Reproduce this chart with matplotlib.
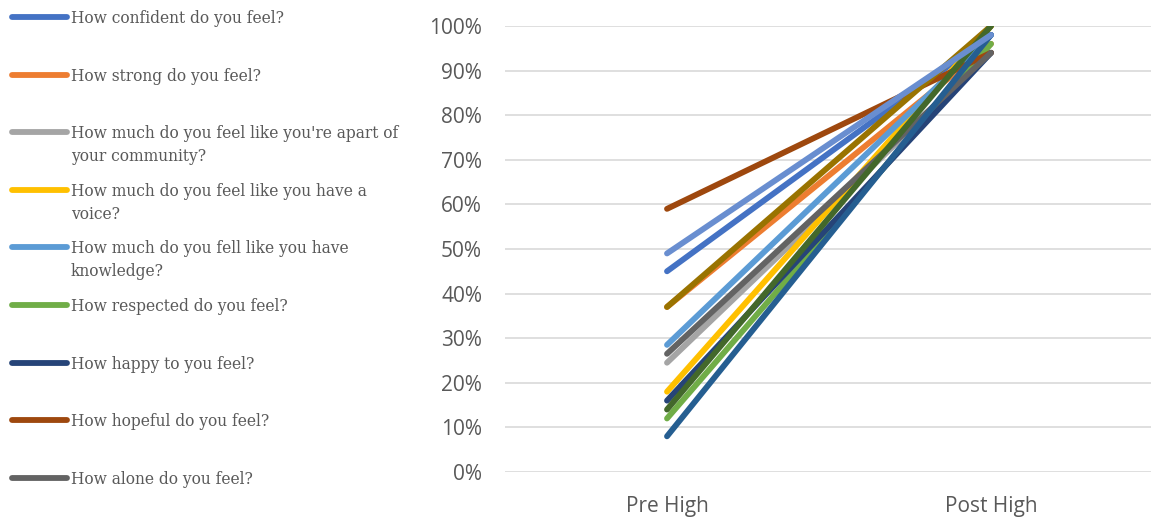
import matplotlib
matplotlib.use("Agg")
import matplotlib.pyplot as plt
from matplotlib.lines import Line2D
from matplotlib.ticker import PercentFormatter

# Survey responses: share of "high" answers before and after the program
stages = ["Pre High", "Post High"]

questions = [
    "How confident do you feel?",
    "How strong do you feel?",
    "How much do you feel like you're apart of\nyour community?",
    "How much do you feel like you have a\nvoice?",
    "How much do you fell like you have\nknowledge?",
    "How respected do you feel?",
    "How happy to you feel?",
    "How hopeful do you feel?",
    "How alone do you feel?",
    "Series 10",
    "Series 11",
    "Series 12",
    "Series 13",
]

pre_high = [0.45, 0.37, 0.245, 0.18, 0.285, 0.12, 0.16, 0.59, 0.265, 0.37, 0.08, 0.14, 0.49]
post_high = [0.98, 0.96, 0.94, 1.00, 0.98, 0.96, 0.94, 0.94, 0.94, 1.00, 0.98, 1.00, 0.98]

colors = ["#4472C4", "#ED7D31", "#A5A5A5", "#FFC000", "#5B9BD5", "#70AD47",
          "#264478", "#9E480E", "#636363", "#997300", "#255E91", "#43682B",
          "#698ED0"]

legend_count = 9  # only the first nine questions are listed in the key

W, H = 1151, 525
fig = plt.figure(figsize=(W / 100, H / 100), dpi=100)
ax = fig.add_axes([505 / W, (H - 472) / H, 648 / W, 446 / H])

xs = list(range(len(stages)))
for i in range(len(questions)):
    ax.plot(xs, [pre_high[i], post_high[i]], color=colors[i], lw=4.2,
            solid_capstyle="round", zorder=3 + i)

ax.set_xlim(-0.5, len(stages) - 0.5)
ax.set_ylim(0, 1.0)
ax.set_yticks([i / 10 for i in range(11)])
ax.yaxis.set_major_formatter(PercentFormatter(1.0, decimals=0))
ax.set_xticks(xs)
ax.set_xticklabels(stages)
ax.grid(axis="y", color="#D9D9D9", lw=1.2, zorder=0)
for s in ax.spines.values():
    s.set_visible(False)
ax.tick_params(axis="both", length=0, colors="#595959")
ax.tick_params(axis="y", pad=16.5, labelsize=15)
ax.tick_params(axis="x", pad=17, labelsize=15)
for lab in ax.get_xticklabels() + ax.get_yticklabels():
    lab.set_fontfamily("Open Sans")
    lab.set_color("#595959")

# Hand-placed key on the left
slot_top = 17
slot_step = 57.6
for i in range(legend_count):
    y = slot_top + i * slot_step
    yf = 1 - y / H
    fig.add_artist(Line2D([12 / W, 67 / W], [yf, yf], color=colors[i], lw=4.2,
                          solid_capstyle="round", transform=fig.transFigure))
    fig.text(71 / W, 1 - (y - 7) / H, questions[i], ha="left", va="top",
             fontsize=11.2, family="DejaVu Serif", color="#595959",
             linespacing=1.45)

fig.savefig("out.png", dpi=100, facecolor="white")
